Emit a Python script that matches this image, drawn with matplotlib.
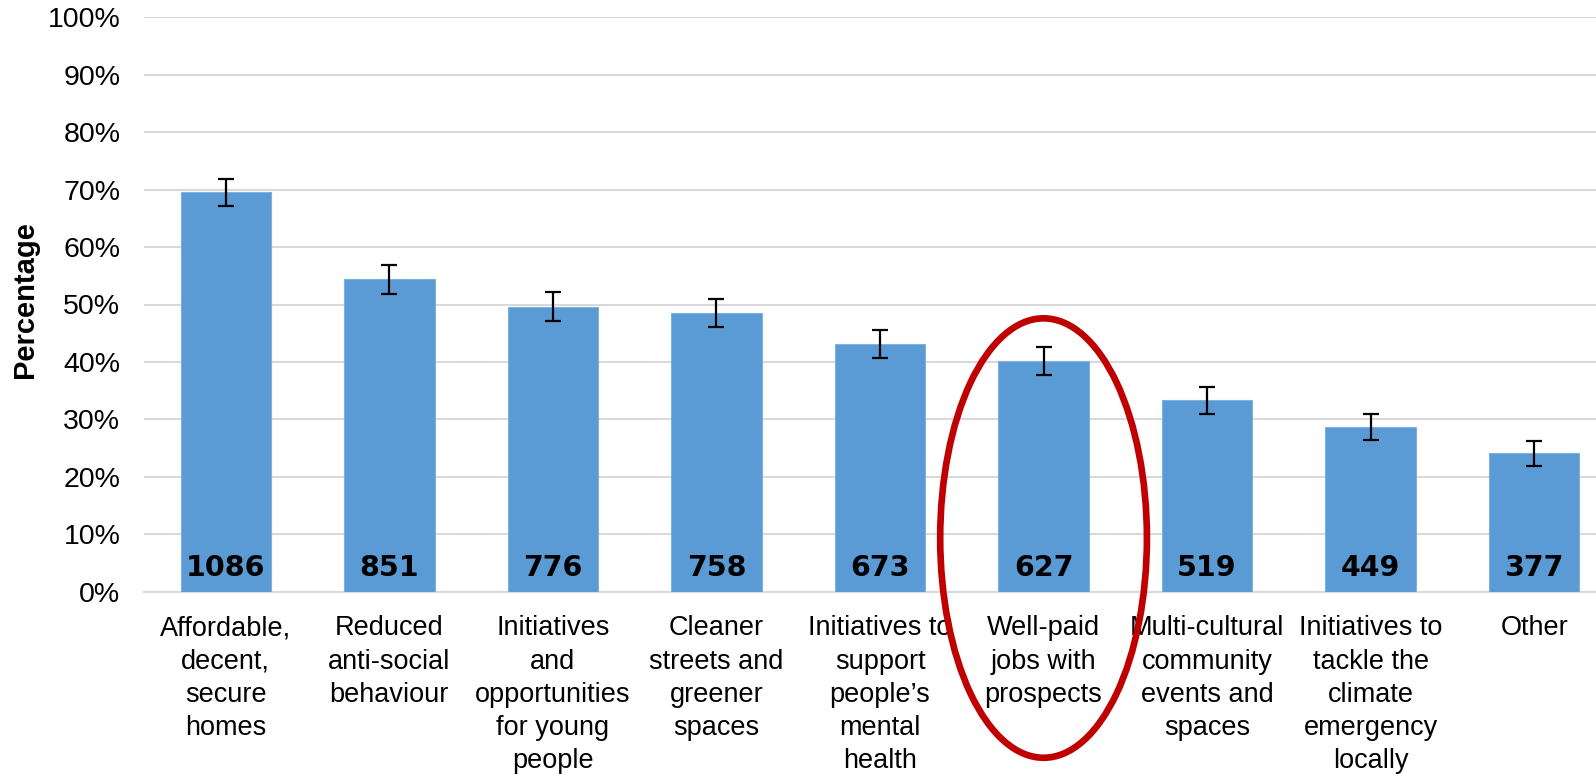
import matplotlib
matplotlib.use("Agg")
import matplotlib.pyplot as plt
from matplotlib.patches import Ellipse
import numpy as np

categories = [
    "Affordable,\ndecent,\nsecure\nhomes",
    "Reduced\nanti-social\nbehaviour",
    "Initiatives\nand\nopportunities\nfor young\npeople",
    "Cleaner\nstreets and\ngreener\nspaces",
    "Initiatives to\nsupport\npeople\u2019s\nmental\nhealth",
    "Well-paid\njobs with\nprospects",
    "Multi-cultural\ncommunity\nevents and\nspaces",
    "Initiatives to\ntackle the\nclimate\nemergency\nlocally",
    "Other",
]
percentages = [69.5, 54.4, 49.6, 48.5, 43.1, 40.1, 33.3, 28.7, 24.1]
errors = [2.3, 2.55, 2.5, 2.5, 2.45, 2.45, 2.3, 2.25, 2.2]
counts = [1086, 851, 776, 758, 673, 627, 519, 449, 377]
yticks = [0, 10, 20, 30, 40, 50, 60, 70, 80, 90, 100]
highlight = 5

W, H = 1596, 775
fig = plt.figure(figsize=(W / 100, H / 100), dpi=100)
left, right, top, bottom = 144, 1616, 17.3, 591.7
ax = fig.add_axes([left / W, 1 - bottom / H, (right - left) / W, (bottom - top) / H])

font = "Liberation Sans"
x = np.arange(len(categories))
ax.bar(x, percentages, width=0.553, color="#5B9BD5", edgecolor="#7FB0DE",
       linewidth=0.8, zorder=3)
ax.errorbar(x, percentages, yerr=errors, fmt="none", ecolor="black",
            elinewidth=1.6, capsize=5.5, capthick=1.6, zorder=4)

for xi, c in zip(x, counts):
    ax.text(xi, 4.2, str(c), ha="center", va="center", fontsize=20.5,
            fontweight="bold", family="DejaVu Sans", zorder=5)

ax.set_xlim(-0.5, len(categories) - 0.5)
ax.set_ylim(0, 100)
ax.set_yticks(yticks)
ax.set_yticklabels([f"{t}%" for t in yticks], family=font, fontsize=20.5)
ax.set_xticks(x)
ax.set_xticklabels(categories, family=font, fontsize=19.5, linespacing=1.36)
ax.tick_params(axis="both", length=0)
ax.tick_params(axis="y", pad=17)
ax.tick_params(axis="x", pad=17)

ax.grid(axis="y", color="#D9D9D9", linewidth=1.5, zorder=0)
ax.set_axisbelow(True)
for s in ["top", "right", "left"]:
    ax.spines[s].set_visible(False)
ax.spines["bottom"].set_color("#D9D9D9")
ax.spines["bottom"].set_linewidth(1.5)
ax.spines["bottom"].set_zorder(0)

fig.text(25 / W, 1 - 300 / H, "Percentage", rotation=90, ha="center",
         va="center", fontsize=21, fontweight="bold", family=font)

ell = Ellipse((highlight, 9.34), width=1.264, height=76.5, fill=False,
              edgecolor="#C00000", linewidth=4.8, clip_on=False, zorder=6)
ax.add_patch(ell)

fig.savefig("out.png", dpi=100)
